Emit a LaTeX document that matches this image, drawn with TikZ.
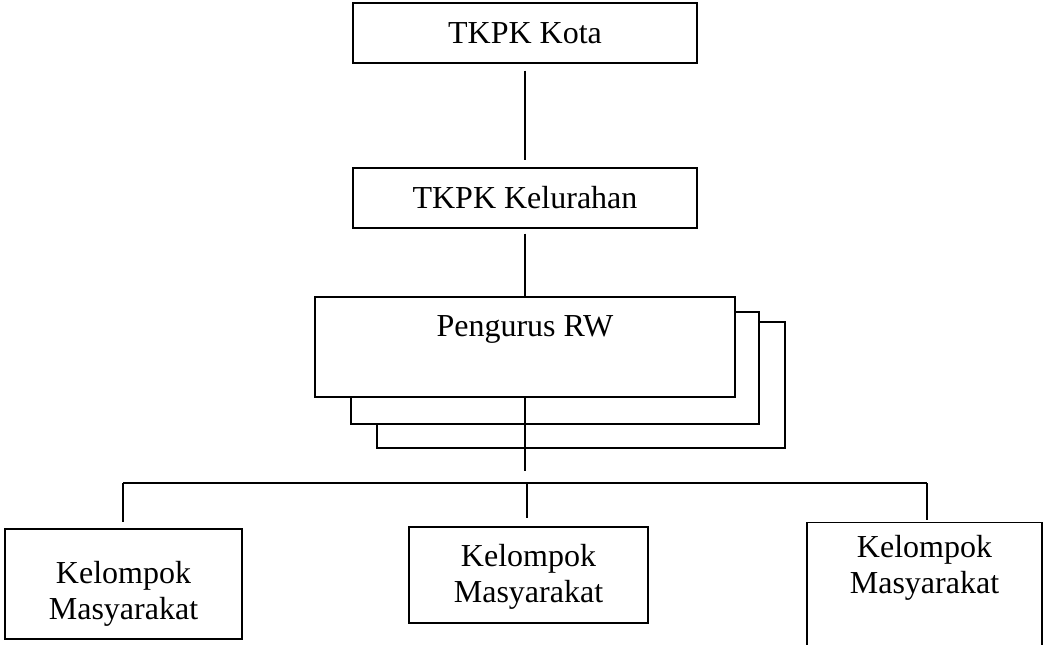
\documentclass[tikz,border=0pt]{standalone}
\usepackage{fontspec}
\setmainfont{Liberation Serif}

\begin{document}
\begin{tikzpicture}[
  x=0.75pt,
  y=-0.75pt,
  kotak/.style={draw, line width=1pt, fill=white, inner sep=0pt},
  teks/.style={align=center, inner sep=0pt, font=\fontsize{24}{26.5}\selectfont},
  garis/.style={line width=1pt}
]
  \useasboundingbox (0,0) rectangle (1045,645);

  \node[kotak, teks, minimum width=258pt, minimum height=45pt] (kota) at (525,33) {TKPK Kota};
  \node[kotak, teks, minimum width=258pt, minimum height=45pt] (kel) at (525,198) {TKPK Kelurahan};

  % tumpukan kotak RW
  \node[kotak, minimum width=306pt, minimum height=94.5pt] (rwC) at (581,385) {};
  \node[kotak, minimum width=306pt, minimum height=84pt] (rwB) at (555,368) {};
  \node[kotak, minimum width=315pt, minimum height=75pt] (rw) at (525,347) {};
  \node[teks] (trw) at (525,329) {Pengurus RW};

  \node[kotak, minimum width=177.75pt, minimum height=82.5pt] (kmL) at (123.5,584) {};
  \node[kotak, minimum width=179.25pt, minimum height=72pt] (kmM) at (528.5,575) {};
  \node[kotak, minimum width=176.25pt, minimum height=107pt] (kmR) at (924.5,593.5) {};
  \node[teks] (tkmL) at (123.5,594) {Kelompok\\Masyarakat};
  \node[teks] (tkmM) at (528.5,577) {Kelompok\\Masyarakat};
  \node[teks] (tkmR) at (924.5,568) {Kelompok\\Masyarakat};

  \coordinate (turun) at (525,471);
  \coordinate (busL) at (123,483);
  \coordinate (busM) at (527,483);
  \coordinate (busR) at (927,483);

  \draw[garis, shorten <=5.25pt, shorten >=5.25pt] (kota) -- (kel);
  \draw[garis, shorten <=3.75pt] (kel) -- (rw);
  \draw[garis] (rw.south) -- (turun);
  \draw[garis] (busL) -- (busR);
  \draw[garis, shorten >=4.5pt] (busL) -- (busL |- kmL.north);
  \draw[garis, shorten >=6pt] (busM) -- (busM |- kmM.north);
  \draw[garis, shorten >=1.5pt] (busR) -- (busR |- kmR.north);
\end{tikzpicture}
\end{document}
